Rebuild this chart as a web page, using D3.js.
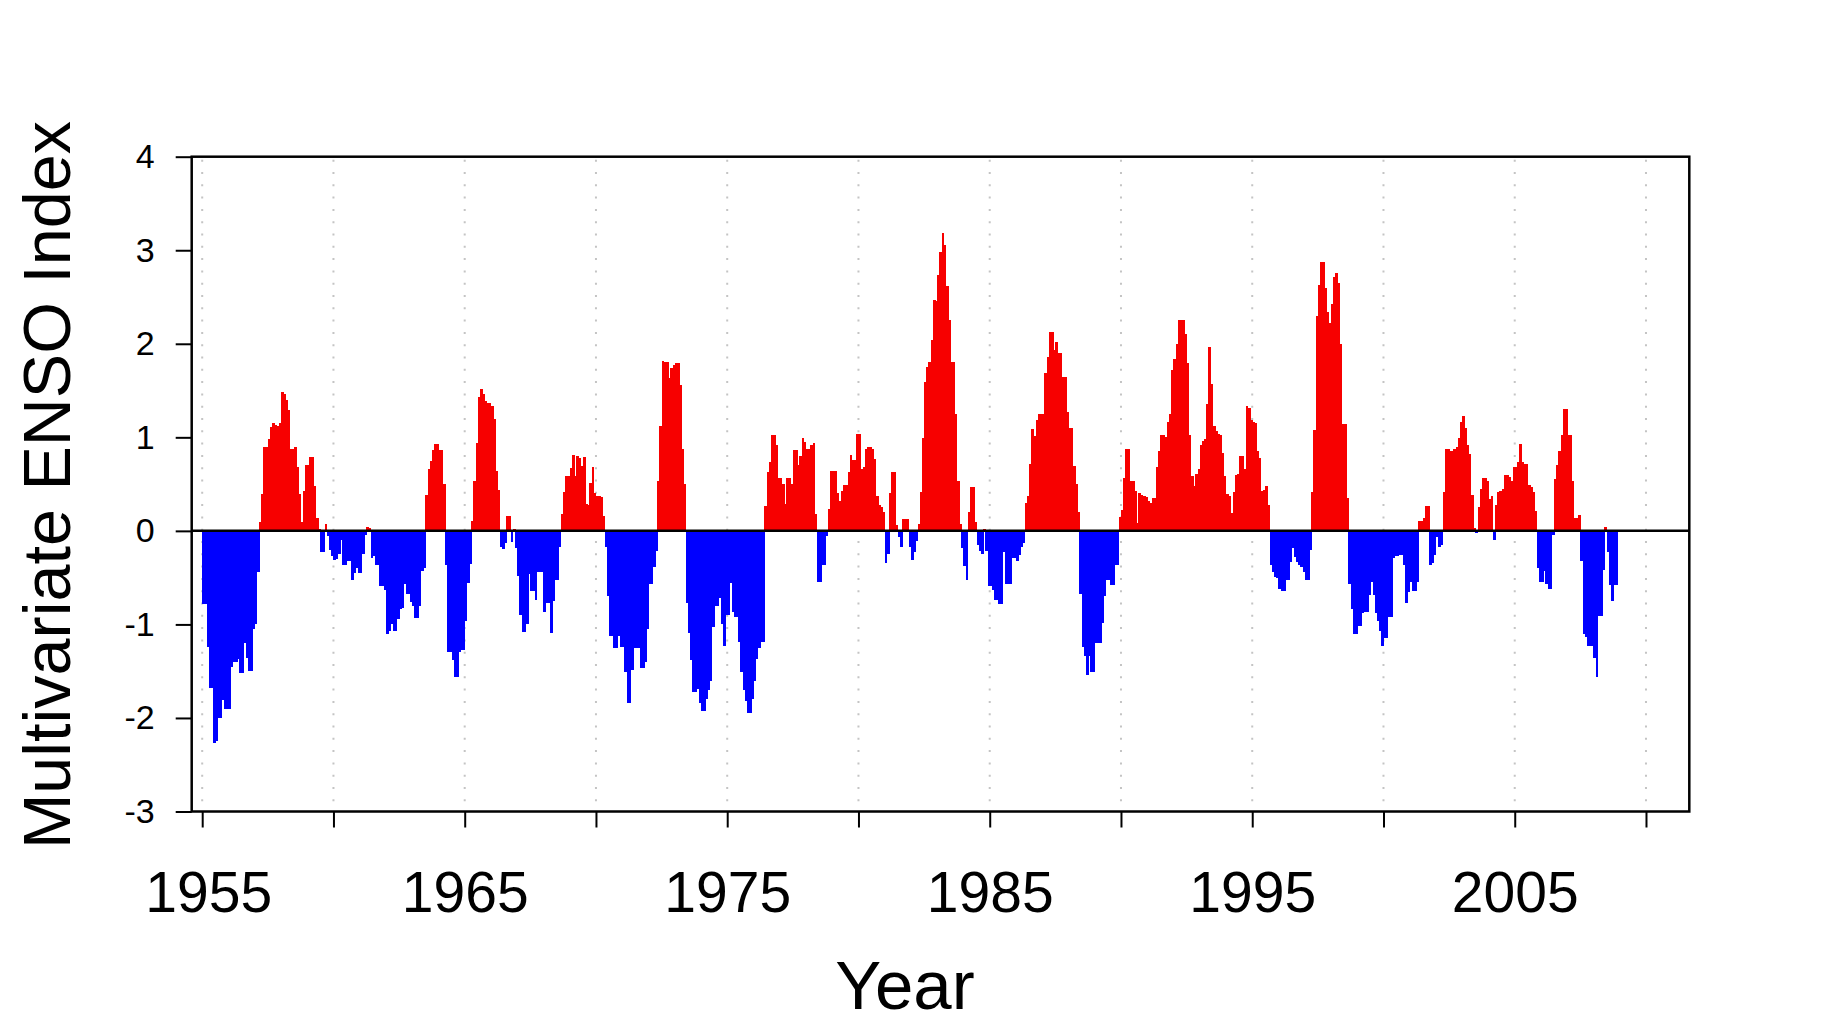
<!DOCTYPE html>
<html><head><meta charset="utf-8">
<script src="https://cdn.jsdelivr.net/npm/d3@7"></script>
<style>body{margin:0;background:#fff}</style>
</head><body>
<svg id="c" width="1827" height="1029"></svg>
<script>
// ---- data (monthly Multivariate ENSO Index, Jan 1955 onward) ----
const startYear = 1955;
const mei1955to1964 = [
 -0.78,-0.78,-1.24,-1.68,-1.68,-2.27,-2.25,-2.0,-2.0,-1.81,-1.9,-1.9,
 -1.9,-1.46,-1.4,-1.4,-1.37,-1.52,-1.52,-1.2,-1.36,-1.5,-1.5,-1.05,
 -1.0,-0.44,0.09,0.39,0.9,0.9,0.98,1.11,1.15,1.13,1.12,1.15,
 1.48,1.46,1.4,1.29,0.88,0.88,0.9,0.68,0.39,0.1,0.43,0.7,
 0.7,0.79,0.79,0.48,0.14,0.02,-0.23,-0.23,0.07,-0.05,-0.2,-0.27,
 -0.31,-0.3,-0.25,-0.1,-0.37,-0.37,-0.32,-0.32,-0.53,-0.45,-0.4,-0.45,
 -0.45,-0.25,-0.04,0.04,0.03,-0.29,-0.27,-0.37,-0.37,-0.59,-0.59,-0.63,
 -1.1,-1.07,-1.0,-1.07,-1.07,-0.94,-0.83,-0.82,-0.57,-0.67,-0.67,-0.76,
 -0.8,-0.93,-0.93,-0.8,-0.43,-0.4,0.38,0.66,0.75,0.86,0.93,0.93,
 0.86,0.86,0.5,-0.36,-1.29,-1.29,-1.38,-1.56,-1.56,-1.29,-1.27,-1.27
];
const mei1965to1974 = [
 -0.96,-0.56,-0.35,0.11,0.53,0.94,1.43,1.52,1.46,1.39,1.37,1.37,
 1.34,1.2,0.64,0.44,-0.17,-0.19,-0.13,0.16,0.16,-0.12,0.02,-0.18,
 -0.48,-0.9,-1.08,-1.08,-1.0,-0.46,-0.64,-0.64,-0.74,-0.44,-0.44,-0.44,
 -0.87,-0.77,-0.77,-1.09,-0.75,-0.52,-0.52,-0.17,0.18,0.42,0.59,0.59,
 0.67,0.81,0.59,0.8,0.78,0.69,0.79,0.29,0.28,0.51,0.68,0.41,
 0.37,0.37,0.36,0.16,-0.17,-0.7,-1.12,-1.12,-1.25,-1.25,-1.12,-1.24,
 -1.24,-1.51,-1.84,-1.84,-1.49,-1.25,-1.25,-1.25,-1.47,-1.47,-1.4,-1.05,
 -0.57,-0.57,-0.39,-0.22,0.53,1.12,1.82,1.8,1.8,1.63,1.74,1.77,
 1.79,1.79,1.56,0.88,0.5,-0.77,-1.09,-1.38,-1.72,-1.72,-1.69,-1.84,
 -1.93,-1.93,-1.8,-1.7,-1.6,-1.03,-0.8,-0.8,-0.72,-1.0,-1.23,-0.9
];
const mei1975to1984 = [
 -0.9,-0.56,-0.87,-0.92,-0.92,-1.19,-1.51,-1.7,-1.82,-1.95,-1.95,-1.8,
 -1.6,-1.37,-1.25,-1.19,-1.19,0.27,0.63,0.74,1.03,1.03,0.92,0.57,
 0.57,0.5,0.29,0.57,0.57,0.5,0.86,0.86,0.7,0.8,0.99,0.95,
 0.87,0.87,0.92,0.94,0.18,-0.55,-0.55,-0.37,-0.37,-0.05,0.23,0.64,
 0.64,0.64,0.4,0.32,0.43,0.49,0.49,0.63,0.81,0.76,0.76,1.04,
 1.04,0.66,0.68,0.87,0.9,0.9,0.88,0.77,0.37,0.28,0.25,0.2,
 -0.34,-0.25,0.41,0.63,0.63,0.06,-0.07,-0.17,0.13,0.13,0.13,-0.17,
 -0.31,-0.23,-0.11,0.07,0.42,0.99,1.59,1.75,1.8,2.04,2.47,2.46,
 2.74,2.98,3.18,3.06,2.62,2.25,1.8,1.8,1.25,0.53,0.07,-0.18,
 -0.38,-0.52,0.2,0.47,0.47,0.1,-0.15,-0.22,-0.25,0.02,-0.22,-0.59
];
const mei1985to1994 = [
 -0.59,-0.63,-0.74,-0.74,-0.78,-0.78,-0.23,-0.57,-0.57,-0.57,-0.29,-0.29,
 -0.32,-0.26,-0.17,-0.13,0.3,0.37,0.71,1.09,1.01,1.19,1.25,1.25,
 1.25,1.69,1.86,2.13,2.13,1.93,2.02,1.9,1.9,1.64,1.64,1.27,
 1.1,1.1,0.69,0.5,0.2,-0.67,-1.24,-1.34,-1.54,-1.34,-1.51,-1.51,
 -1.2,-1.2,-1.2,-0.98,-0.7,-0.53,-0.52,-0.58,-0.58,-0.37,-0.37,0.15,
 0.22,0.57,0.87,0.87,0.53,0.53,0.43,0.08,0.41,0.38,0.37,0.36,
 0.32,0.3,0.35,0.35,0.68,0.85,1.03,1.03,1.0,1.16,1.25,1.72,
 1.84,2.0,2.25,2.25,2.25,2.1,1.79,1.02,0.59,0.48,0.61,0.66,
 0.92,0.96,0.98,1.36,1.97,1.57,1.12,1.07,1.04,1.03,0.83,0.59,
 0.39,0.37,0.19,0.42,0.6,0.61,0.8,0.8,0.66,1.33,1.31,1.19
];
const mei1995to2004 = [
 1.16,1.15,0.85,0.78,0.43,0.44,0.48,0.28,-0.37,-0.44,-0.49,-0.5,
 -0.62,-0.64,-0.64,-0.52,-0.52,-0.33,-0.18,-0.28,-0.33,-0.37,-0.39,-0.44,
 -0.52,-0.52,-0.2,0.42,1.08,2.3,2.63,2.87,2.87,2.6,2.34,2.22,
 2.43,2.71,2.76,2.65,2.0,1.14,1.14,0.35,-0.57,-0.83,-1.1,-1.1,
 -1.02,-1.02,-0.88,-0.87,-0.87,-0.69,-0.55,-0.69,-0.88,-0.96,-1.07,-1.23,
 -1.14,-1.14,-0.92,-0.92,-0.29,-0.27,-0.27,-0.26,-0.26,-0.36,-0.77,-0.65,
 -0.55,-0.64,-0.64,-0.55,0.11,0.11,0.14,0.27,0.27,-0.37,-0.34,-0.26,
 -0.07,-0.17,-0.15,0.42,0.87,0.87,0.85,0.85,0.87,0.9,0.99,1.16,
 1.23,1.1,0.92,0.82,0.38,0.03,-0.02,0.26,0.45,0.56,0.56,0.53,
 0.34,0.37,-0.1,0.28,0.42,0.43,0.45,0.6,0.6,0.58,0.53,0.68
];
const mei2005to2008 = [
 0.68,0.74,0.93,0.74,0.71,0.71,0.49,0.47,0.42,0.21,-0.4,-0.55,
 -0.55,-0.43,-0.57,-0.62,-0.62,-0.04,0.55,0.7,0.85,1.03,1.3,1.3,
 1.03,1.03,0.53,0.14,0.14,0.17,-0.32,-1.1,-1.13,-1.23,-1.23,-1.23,
 -1.36,-1.56,-0.91,-0.91,-0.42,0.04,-0.23,-0.58,-0.75,-0.58,-0.58
];
const yTicks = [-3,-2,-1,0,1,2,3,4];
const xTicks = [1955,1960,1965,1970,1975,1980,1985,1990,1995,2000,2005,2010];
const xLabels = [1955,1965,1975,1985,1995,2005];
const xTitle = "Year";
const yTitle = "Multivariate ENSO Index";

// ---- drawing ----
const values = [].concat(mei1955to1964, mei1965to1974, mei1975to1984, mei1985to1994, mei1995to2004, mei2005to2008);
const FONT = "'Liberation Sans', Arial, Helvetica, sans-serif";
const svg = d3.select('#c');
const W = 1827, H = 1029;
const P = {left:191.7, right:1689.3, top:156.7, bottom:811.5};
const x = d3.scaleLinear().domain([1954.6, 2011.65]).range([P.left, P.right]);
const y = d3.scaleLinear().domain([-3, 4]).range([P.bottom, P.top]);

svg.append('rect').attr('width', W).attr('height', H).attr('fill', '#fff');

// vertical dotted gridlines
svg.append('g').selectAll('line').data(xTicks).join('line')
  .attr('x1', d => x(d)).attr('x2', d => x(d))
  .attr('y1', P.top + 3).attr('y2', P.bottom)
  .attr('stroke', '#c4c4c4').attr('stroke-width', 2)
  .attr('stroke-dasharray', '2,10.3');

// bars
svg.append('g').attr('shape-rendering', 'crispEdges')
  .selectAll('rect').data(values).join('rect')
  .attr('x', (d, i) => x(startYear + i / 12))
  .attr('width', (d, i) => x(startYear + (i + 1) / 12) - x(startYear + i / 12) + 0.5)
  .attr('y', d => y(Math.max(0, d)))
  .attr('height', d => Math.abs(y(d) - y(0)))
  .attr('fill', d => d >= 0 ? '#f70000' : '#0000ff');

// zero line
svg.append('line').attr('x1', P.left).attr('x2', P.right)
  .attr('y1', y(0)).attr('y2', y(0))
  .attr('stroke', '#000').attr('stroke-width', 2.5);

// axes
const yAxis = d3.axisLeft(y).tickValues(yTicks).tickSize(16).tickPadding(21)
  .tickFormat(d => String(d));
const gy = svg.append('g').attr('transform', `translate(${P.left},0)`).call(yAxis);
gy.select('.domain').remove();
gy.selectAll('.tick line').attr('stroke-width', 2);
gy.selectAll('text').attr('font-family', FONT).attr('font-size', 34).attr('fill', '#000');

const xAxis = d3.axisBottom(x).tickValues(xTicks).tickSize(16).tickPadding(44)
  .tickFormat(d => xLabels.includes(d) ? String(d) : '');
const gx = svg.append('g').attr('transform', `translate(0,${P.bottom})`).call(xAxis);
gx.select('.domain').remove();
gx.selectAll('.tick line').attr('stroke-width', 2);
gx.selectAll('text').attr('font-family', FONT).attr('font-size', 57).attr('fill', '#000')
  .attr('dx', d => d === 1955 ? 6 : 0);

// frame
svg.append('rect').attr('x', P.left).attr('y', P.top)
  .attr('width', P.right - P.left).attr('height', P.bottom - P.top)
  .attr('fill', 'none').attr('stroke', '#000').attr('stroke-width', 2.5);

// titles
svg.append('text').attr('x', 905).attr('y', 1009).attr('text-anchor', 'middle')
  .attr('font-family', FONT).attr('font-size', 69).text(xTitle);
svg.append('text').attr('transform', 'translate(70,485) rotate(-90)')
  .attr('text-anchor', 'middle').attr('font-family', FONT).attr('font-size', 66.5).text(yTitle);
</script>
</body></html>
